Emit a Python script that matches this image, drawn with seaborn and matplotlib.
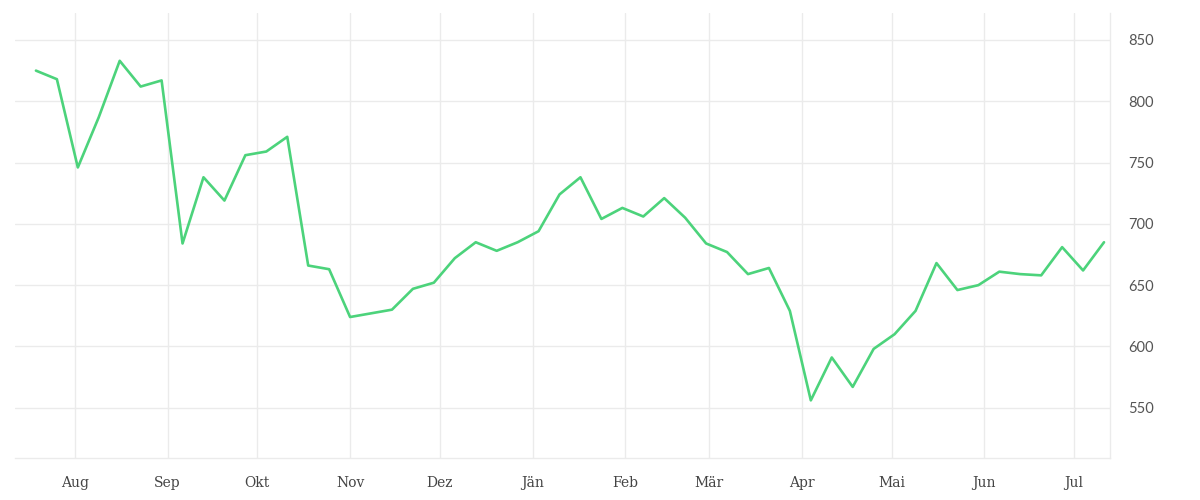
"""
Weekly price line, Jul 2022 - Jul 2023, with Austrian-German month labels
and the value axis on the right.
"""

import numpy as np
import pandas as pd
import matplotlib
matplotlib.use("Agg")
import matplotlib.pyplot as plt
import matplotlib.dates as mdates
import seaborn as sns

# ── DATA ─────────────────────────────────────────────────────────
start_date = "2022-07-19"
n_weeks = 52
values = [
    825, 818, 746, 787, 833, 812, 817, 684, 738, 719,
    756, 759, 771, 666, 663, 624, 627, 630, 647, 652,
    672, 685, 678, 685, 694, 724, 738, 704, 713, 706,
    721, 705, 684, 677, 659, 664, 629, 556, 591, 567,
    598, 610, 629, 668, 646, 650, 661, 659, 658, 681,
    662, 685,
]
month_labels = ["Aug", "Sep", "Okt", "Nov", "Dez", "Jän",
                "Feb", "Mär", "Apr", "Mai", "Jun", "Jul"]
month_starts = pd.date_range("2022-08-01", periods=12, freq="MS")
y_ticks = [550, 600, 650, 700, 750, 800, 850]

# ── CONFIG ───────────────────────────────────────────────────────
LINE_COLOR = "#4cd37b"
GRID_COLOR = "#ebebeb"
sns.set_style("white")


def main():
    df = pd.DataFrame({
        "date": pd.date_range(start_date, periods=n_weeks, freq="7D"),
        "value": values,
    })

    fig = plt.figure(figsize=(12, 5), dpi=100)
    ax = fig.add_axes([0.0125, 0.084, 0.9125, 0.89])

    sns.lineplot(data=df, x="date", y="value", ax=ax,
                 color=LINE_COLOR, linewidth=1.9)

    ax.set_xlim(pd.Timestamp("2022-07-12"), pd.Timestamp("2023-07-13"))
    ax.set_ylim(509, 872)

    ax.set_xticks(month_starts)
    ax.set_xticklabels(month_labels, family=["DejaVu Serif"], fontsize=10,
                       color="#444444")
    ax.set_yticks(y_ticks)
    ax.set_yticklabels([str(v) for v in y_ticks], family=["Lato"],
                       fontsize=10.5, color="#555555")

    ax.yaxis.tick_right()
    ax.tick_params(axis="y", length=0, pad=13)
    ax.tick_params(axis="x", length=7, width=1, color=GRID_COLOR, pad=6)

    ax.grid(True, color=GRID_COLOR, linewidth=1)
    ax.set_axisbelow(True)
    for side in ["top", "left"]:
        ax.spines[side].set_visible(False)
    for side in ["right", "bottom"]:
        ax.spines[side].set_color(GRID_COLOR)
        ax.spines[side].set_linewidth(1)

    ax.set_xlabel("")
    ax.set_ylabel("")

    fig.savefig("out.png", dpi=100)
    plt.close(fig)


if __name__ == "__main__":
    main()
